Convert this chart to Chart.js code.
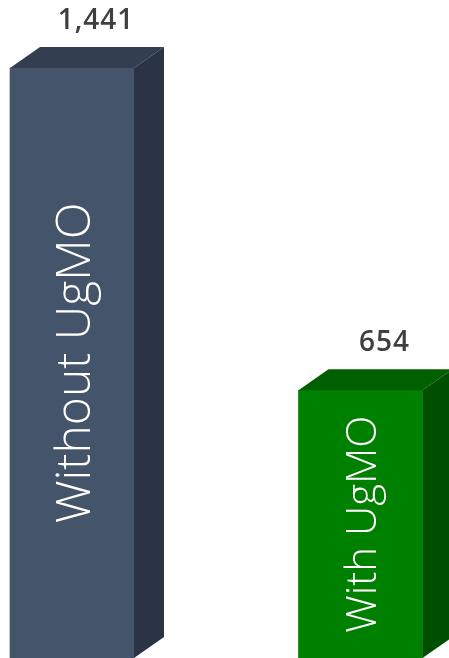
<!DOCTYPE html>
<html>
<head>
<meta charset="utf-8">
<script src="https://cdn.jsdelivr.net/npm/chart.js@4.4.0/dist/chart.umd.min.js"></script>
<style>
html,body{margin:0;padding:0;background:#fff;}
#wrap{width:449px;height:658px;position:relative;}
</style>
</head>
<body>
<div id="wrap"><canvas id="c"></canvas></div>
<script>
const categories = ["Without UgMO", "With UgMO"];
const values = [1441, 654];
const frontColors = ["#44546a", "#008000"];
const topColors = ["#333f50", "#006000"];
const sideColors = ["#2a3444", "#004f00"];
const labelSizes = [48, 42];

const DX = 30, DY = 21;

const bar3d = {
  id: 'bar3d',
  afterDatasetsDraw(chart) {
    const ctx = chart.ctx;
    const meta = chart.getDatasetMeta(0);
    meta.data.forEach((el, i) => {
      const p = el.getProps(['x', 'y', 'base', 'width'], true);
      const l = p.x - p.width / 2, r = p.x + p.width / 2, t = p.y, b = p.base;
      ctx.save();
      ctx.fillStyle = topColors[i];
      ctx.beginPath();
      ctx.moveTo(l, t); ctx.lineTo(l + DX, t - DY); ctx.lineTo(r + DX, t - DY); ctx.lineTo(r, t);
      ctx.closePath(); ctx.fill();
      ctx.fillStyle = sideColors[i];
      ctx.beginPath();
      ctx.moveTo(r, t); ctx.lineTo(r + DX, t - DY); ctx.lineTo(r + DX, b - DY); ctx.lineTo(r, b);
      ctx.closePath(); ctx.fill();
      ctx.fillStyle = '#3f3f3f';
      ctx.font = '600 28px "Open Sans"';
      ctx.letterSpacing = '1px';
      ctx.textAlign = 'center';
      ctx.textBaseline = 'middle';
      ctx.fillText(values[i].toLocaleString('en-US'), p.x + 24, t - DY - 26);
      ctx.letterSpacing = '0px';
      ctx.translate(p.x, (t + b) / 2);
      ctx.rotate(-Math.PI / 2);
      ctx.fillStyle = '#ffffff';
      ctx.font = '300 ' + labelSizes[i] + 'px "Open Sans"';
      ctx.fillText(categories[i], 0, 4);
      ctx.restore();
    });
  }
};

new Chart(document.getElementById('c'), {
  type: 'bar',
  data: {
    datasets: [{
      data: values.map((v, i) => ({ x: i, y: v })),
      backgroundColor: frontColors,
      borderWidth: 0,
      barThickness: 124
    }]
  },
  options: {
    responsive: true,
    maintainAspectRatio: false,
    animation: false,
    layout: { padding: 0 },
    plugins: { legend: { display: false }, tooltip: { enabled: false } },
    scales: {
      x: { type: 'linear', display: false, offset: false, min: -0.2496, max: 1.3068 },
      y: { display: false, min: 0, max: 1607 }
    }
  },
  plugins: [bar3d]
});
</script>
</body>
</html>
